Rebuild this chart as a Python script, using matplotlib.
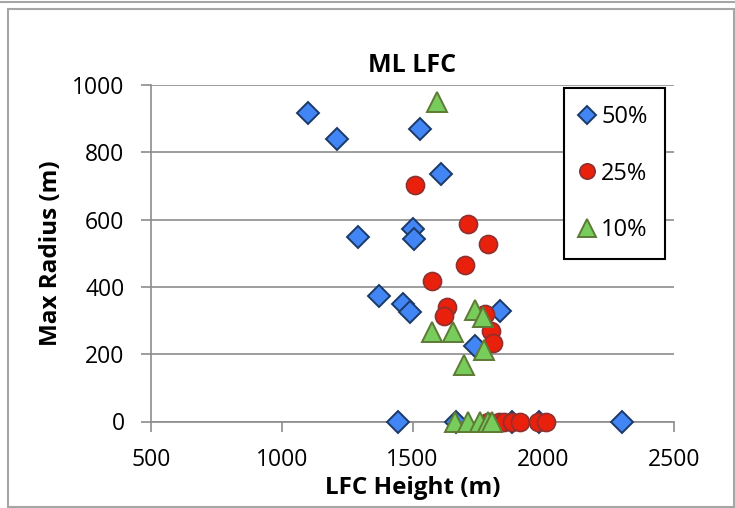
import matplotlib
matplotlib.use("Agg")
import matplotlib.pyplot as plt
from matplotlib.patches import Rectangle
from matplotlib.lines import Line2D

plt.rcParams['font.family'] = ['Open Sans', 'DejaVu Sans']

# LFC height (m) vs max radius (m), one series per threshold
h50 = [1100, 1210, 1530, 1610, 1290, 1500, 1505, 1370, 1465, 1490, 1835, 1740,
       1443, 1665, 1880, 1985, 2300]
r50 = [917, 840, 868, 735, 548, 573, 541, 372, 348, 325, 328, 225,
       0, 0, 0, 0, 0]
h25 = [1510, 1713, 1790, 1700, 1573, 1631, 1622, 1778, 1800, 1807,
       1790, 1830, 1850, 1880, 1910, 1980, 2010]
r25 = [703, 588, 527, 466, 417, 340, 315, 320, 270, 234,
       0, 0, 0, 0, 0, 0, 0]
h10 = [1595, 1740, 1769, 1573, 1656, 1775, 1698,
       1662, 1713, 1758, 1790, 1803]
r10 = [950, 332, 312, 267, 267, 212, 168,
       0, 0, 0, 0, 0]

x_ticks = [500, 1000, 1500, 2000, 2500]
y_ticks = [0, 200, 400, 600, 800, 1000]

W, H = 735, 508
fig = plt.figure(figsize=(W / 100, H / 100), dpi=100)
ax = fig.add_axes([151 / W, 1 - 421.5 / H, (674 - 151) / W, (421.5 - 85) / H])

grid_c = '#8c8c8c'
ax.plot(h50, r50, ls='none', marker='D', ms=10.8, mfc='#4285f4', mec='#1c3a66',
        mew=1.4, label='50%', zorder=3, clip_on=False)
ax.plot(h25, r25, ls='none', marker='o', ms=13, mfc='#e8200c', mec='#8e3030',
        mew=1.2, label='25%', zorder=4, clip_on=False)
ax.plot(h10, r10, ls='none', marker='^', ms=14.5, mfc='#78cc5c', mec='#5e7a34',
        mew=1.4, label='10%', zorder=5, clip_on=False)

ax.set_xlim(500, 2500)
ax.set_ylim(0, 1000)
ax.set_xticks(x_ticks)
ax.set_yticks(y_ticks)
ax.yaxis.grid(True, color=grid_c, lw=1.2)
ax.set_axisbelow(True)
for s in ['top', 'right']:
    ax.spines[s].set_visible(False)
for s in ['left', 'bottom']:
    ax.spines[s].set_color(grid_c)
    ax.spines[s].set_linewidth(1.2)
ax.tick_params(axis='both', direction='out', length=7, width=1.2, color=grid_c,
               labelsize=16.5, pad=12)

ax.set_title('ML LFC', fontsize=18, fontweight='bold', pad=9)
ax.set_xlabel('LFC Height (m)', fontsize=17.5, fontweight='bold', labelpad=3)
ax.set_ylabel('Max Radius (m)', fontsize=17.5, fontweight='bold', labelpad=7)

leg = ax.legend(loc='upper left', bbox_to_anchor=((564 - 151) / 523, 0.991),
                fontsize=17, labelspacing=1.38, handlelength=0.5,
                handletextpad=0.35, borderpad=0.72, markerscale=0.85,
                fancybox=False, framealpha=1, borderaxespad=0)
leg.get_frame().set_edgecolor('black')
leg.get_frame().set_linewidth(1.5)

# chart area border
fig.patches.append(Rectangle((8 / W, 1 / H), (734 - 8) / W, (499 - 1) / H,
                             transform=fig.transFigure, fill=False,
                             edgecolor='#a6a6a6', lw=1.5))
fig.lines.append(Line2D([0, 1], [1 - 1.5 / H, 1 - 1.5 / H],
                        transform=fig.transFigure, color='#a6a6a6', lw=1.5))

fig.savefig('out.png', dpi=100)
